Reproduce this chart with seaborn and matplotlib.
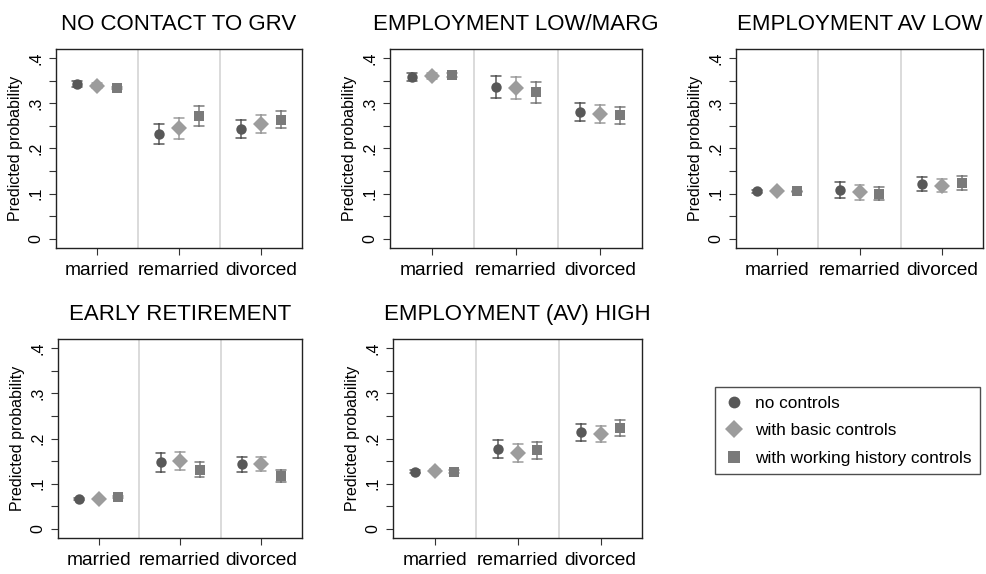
import matplotlib
matplotlib.use("Agg")
import matplotlib.pyplot as plt
import numpy as np
import pandas as pd
import seaborn as sns
from matplotlib.lines import Line2D

# Categories
STATUS = ["married", "remarried", "divorced"]
MODELS = ["no controls", "with basic controls", "with working history controls"]
PANELS = [
    "NO CONTACT TO GRV",
    "EMPLOYMENT LOW/MARG",
    "EMPLOYMENT AV LOW",
    "EARLY RETIREMENT",
    "EMPLOYMENT (AV) HIGH",
]

# Predicted probabilities (rows = model, cols = marital status) and CI half-widths
NO_CONTACT_EST = [[0.343, 0.232, 0.244], [0.339, 0.245, 0.254], [0.334, 0.271, 0.264]]
NO_CONTACT_CI = [[0.007, 0.023, 0.020], [0.005, 0.023, 0.019], [0.003, 0.022, 0.018]]

LOW_MARG_EST = [[0.358, 0.336, 0.280], [0.360, 0.334, 0.276], [0.362, 0.324, 0.273]]
LOW_MARG_CI = [[0.009, 0.025, 0.020], [0.007, 0.025, 0.020], [0.005, 0.024, 0.019]]

AV_LOW_EST = [[0.105, 0.108, 0.121], [0.106, 0.103, 0.118], [0.105, 0.100, 0.124]]
AV_LOW_CI = [[0.003, 0.017, 0.015], [0.003, 0.016, 0.015], [0.002, 0.015, 0.015]]

EARLY_RET_EST = [[0.066, 0.147, 0.143], [0.066, 0.150, 0.144], [0.071, 0.131, 0.117]]
EARLY_RET_CI = [[0.002, 0.020, 0.016], [0.002, 0.020, 0.016], [0.002, 0.017, 0.014]]

AV_HIGH_EST = [[0.127, 0.177, 0.214], [0.129, 0.168, 0.210], [0.127, 0.174, 0.223]]
AV_HIGH_CI = [[0.003, 0.020, 0.019], [0.003, 0.019, 0.018], [0.003, 0.019, 0.018]]

ESTS = [NO_CONTACT_EST, LOW_MARG_EST, AV_LOW_EST, EARLY_RET_EST, AV_HIGH_EST]
CIS = [NO_CONTACT_CI, LOW_MARG_CI, AV_LOW_CI, EARLY_RET_CI, AV_HIGH_CI]

COLORS = ["#585858", "#9c9c9c", "#7a7a7a"]
MARKERS = ["o", "D", "s"]
MSIZES = [7.5, 8.5, 7.0]

# long table: each estimate stored as lower bound, point, upper bound
rows = []
for panel, est, ci in zip(PANELS, ESTS, CIS):
    for m, model in enumerate(MODELS):
        for s, status in enumerate(STATUS):
            e, h = est[m][s], ci[m][s]
            for v in (e - h, e, e + h):
                rows.append((panel, model, status, v))
df = pd.DataFrame(rows, columns=["panel", "model", "status", "value"])

sns.set_theme(style="ticks")
plt.rcParams["font.family"] = ["Liberation Sans", "DejaVu Sans"]
plt.rcParams.update({
    "text.color": "black",
    "axes.labelcolor": "black",
    "xtick.color": "black",
    "ytick.color": "black",
})

fig = plt.figure(figsize=(9.87, 5.74), dpi=100)

# axes boxes in figure fractions
positions = [
    [0.0567, 0.568, 0.2492, 0.3467],
    [0.3951, 0.568, 0.2553, 0.3467],
    [0.7457, 0.568, 0.2503, 0.3467],
    [0.0588, 0.0627, 0.2472, 0.3467],
    [0.3982, 0.0627, 0.2523, 0.3467],
]

for panel, pos in zip(PANELS, positions):
    ax = fig.add_axes(pos)
    sub = df[df["panel"] == panel]
    sns.pointplot(
        data=sub, x="status", y="value", hue="model",
        order=STATUS, hue_order=MODELS,
        estimator="median", errorbar=lambda v: (v.min(), v.max()),
        markers=MARKERS, linestyles="none", dodge=0.48,
        palette=COLORS, capsize=0.12, err_kws={"linewidth": 1.1},
        legend=False, ax=ax,
    )
    for line in ax.lines:
        mk = line.get_marker()
        if mk in MARKERS:
            line.set_markersize(MSIZES[MARKERS.index(mk)])
            line.set_markeredgewidth(0)

    for xv in (0.5, 1.5):
        ax.axvline(xv, color="#d4d4d4", lw=1.2, zorder=0)

    ax.set_xlim(-0.5, 2.5)
    ax.set_ylim(-0.02, 0.42)
    yt = np.arange(0, 0.401, 0.05)
    ax.set_yticks(yt)
    ax.set_yticklabels(["0" if i == 0 else ("." + str(i // 2) if i % 2 == 0 else "")
                        for i in range(len(yt))],
                       rotation=90, va="center", fontsize=11.5)
    ax.tick_params(axis="y", length=5, width=0.8, pad=4, color="#333333")
    ax.tick_params(axis="x", length=5, width=0.8, pad=5, color="#333333", labelsize=13.8)
    ax.set_xlabel("")
    ax.set_ylabel("Predicted probability", fontsize=11.5, labelpad=4)
    ax.set_title(panel, fontsize=16, pad=14)
    for sp in ax.spines.values():
        sp.set_visible(True)
        sp.set_color("#222222")
        sp.set_linewidth(1.0)

handles = [
    Line2D([], [], marker=mk, color=c, linestyle="none", markersize=ms, markeredgewidth=0)
    for mk, c, ms in zip(MARKERS, COLORS, [8.5, 9.5, 8.5])
]
leg = fig.legend(
    handles, MODELS, loc="upper left", bbox_to_anchor=(0.7244, 0.3258),
    borderaxespad=0, frameon=True, fancybox=False, fontsize=12.4,
    handletextpad=0.6, labelspacing=0.72, borderpad=0.5, handlelength=1.2,
)
leg.get_frame().set_edgecolor("#222222")
leg.get_frame().set_linewidth(1.0)

fig.savefig("out.png", dpi=100)
